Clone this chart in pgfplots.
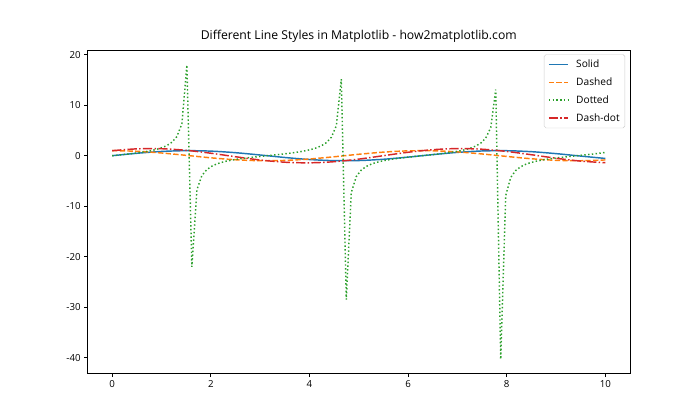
\documentclass[border=0pt]{standalone}
\usepackage{pgfplots}
\pgfplotsset{compat=1.18}
\usepackage{fontspec}
\setmainfont{Open Sans}
\definecolor{c0}{HTML}{1F77B4}
\definecolor{c1}{HTML}{FF7F0E}
\definecolor{c2}{HTML}{2CA02C}
\definecolor{c3}{HTML}{D62728}
\begin{document}
\begin{tikzpicture}
\begin{axis}[
    name=ax,
    scale only axis,
    width=7.75in, height=4.62in,
    xmin=-0.5, xmax=10.5,
    ymin=-43.2, ymax=20.86,
    xtick={0,2,...,10},
    ytick={-40,-30,...,20},
    tick align=outside,
    tick pos=left,
    major tick length=3.5pt,
    tick style={black, line width=0.8pt},
    axis line style={line width=0.8pt},
    /pgf/number format/assume math mode=true,
    ticklabel style={font=\fontsize{10}{12}\selectfont},
    title={Different Line Styles in Matplotlib - how2matplotlib.com},
    title style={font=\fontsize{12.6}{14}\selectfont, yshift=-1pt},
    legend cell align=left,
    legend style={font=\fontsize{10.5}{12}\selectfont, draw=black!20, rounded corners=2pt,
        at={(0.991,0.988)}, anchor=north east, row sep=6pt, column sep=6pt,
        inner sep=4pt, nodes={inner sep=1.5pt}},
    legend image code/.code={\draw[#1, line width=1.6pt] (0pt,0pt) -- (20pt,0pt);},
]
\addplot[color=c0, line width=1.5pt, smooth, solid] coordinates {
(0,0) (0.5,0.479) (1,0.841) (1.5,0.997) (2,0.909) (2.5,0.598) (3,0.141)
(3.5,-0.351) (4,-0.757) (4.5,-0.978) (5,-0.959) (5.5,-0.706) (6,-0.279)
(6.5,0.215) (7,0.657) (7.5,0.938) (8,0.989) (8.5,0.798) (9,0.412)
(9.5,-0.075) (10,-0.544)
};
\addlegendentry{Solid}
\addplot[color=c1, line width=1.5pt, smooth, dash pattern=on 5.5pt off 2.4pt] coordinates {
(0,1) (0.5,0.878) (1,0.540) (1.5,0.071) (2,-0.416) (2.5,-0.801) (3,-0.990)
(3.5,-0.936) (4,-0.654) (4.5,-0.211) (5,0.284) (5.5,0.709) (6,0.960)
(6.5,0.977) (7,0.754) (7.5,0.347) (8,-0.146) (8.5,-0.602) (9,-0.911)
(9.5,-0.997) (10,-0.839)
};
\addlegendentry{Dashed}
\addplot[color=c2, line width=1.5pt, dash pattern=on 1.5pt off 2.4pt] coordinates {
(0,0) (0.10101,0.1013) (0.20202,0.2048) (0.30303,0.3126) (0.40404,0.4276)
(0.50505,0.5529) (0.60606,0.6930) (0.70707,0.8544) (0.80808,1.0462)
(0.90909,1.2840) (1.01010,1.5925) (1.11111,2.0200) (1.21212,2.666)
(1.31313,3.795) (1.41414,6.329) (1.51515,17.95) (1.61616,-22.03)
(1.71717,-6.784) (1.81818,-3.959) (1.91919,-2.755) (2.02020,-2.074)
(2.12121,-1.628) (2.22222,-1.310) (2.32323,-1.067) (2.42424,-0.872)
(2.52525,-0.708) (2.62626,-0.566) (2.72727,-0.440) (2.82828,-0.324)
(2.92929,-0.216) (3.03030,-0.112) (3.13131,-0.0103) (3.23232,0.0910)
(3.33333,0.1941) (3.43434,0.3014) (3.53535,0.4154) (3.63636,0.5395)
(3.73737,0.6779) (3.83838,0.8368) (3.93939,1.0251) (4.04040,1.2571)
(4.14141,1.5568) (4.24242,1.9685) (4.34343,2.586) (4.44444,3.642)
(4.54545,5.935) (4.64646,15.14) (4.74747,-28.49) (4.84848,-7.303)
(4.94949,-4.139) (5.05051,-2.844) (5.15152,-2.128) (5.25253,-1.667)
(5.35354,-1.340) (5.45455,-1.090) (5.55556,-0.891) (5.65657,-0.724)
(5.75758,-0.580) (5.85859,-0.452) (5.95960,-0.335) (6.06061,-0.226)
(6.16162,-0.122) (6.26263,-0.0206) (6.36364,0.0806) (6.46465,0.1835)
(6.56566,0.2903) (6.66667,0.4035) (6.76768,0.5264) (6.86869,0.6630)
(6.96970,0.8195) (7.07071,1.0042) (7.17172,1.2309) (7.27273,1.5222)
(7.37374,1.919) (7.47475,2.509) (7.57576,3.501) (7.67677,5.583)
(7.77778,13.10) (7.87879,-40.30) (7.97980,-7.905) (8.08081,-4.333)
(8.18182,-2.940) (8.28283,-2.187) (8.38384,-1.707) (8.48485,-1.369)
(8.58586,-1.113) (8.68687,-0.909) (8.78788,-0.740) (8.88889,-0.594)
(8.98990,-0.465) (9.09091,-0.347) (9.19192,-0.237) (9.29293,-0.133)
(9.39394,-0.0309) (9.49495,0.0703) (9.59596,0.1729) (9.69697,0.2791)
(9.79798,0.3916) (9.89899,0.5133) (10,0.6484)
};
\addlegendentry{Dotted}
\addplot[color=c3, line width=1.5pt, smooth, dash pattern=on 9.6pt off 2.4pt on 1.5pt off 2.4pt] coordinates {
(0,1) (0.5,1.357) (1,1.381) (1.5,1.068) (2,0.493) (2.5,-0.203) (3,-0.849)
(3.5,-1.287) (4,-1.411) (4.5,-1.189) (5,-0.675) (5.5,0.003) (6,0.681)
(6.5,1.192) (7,1.411) (7.5,1.285) (8,0.843) (8.5,0.196) (9,-0.499)
(9.5,-1.072) (10,-1.383)
};
\addlegendentry{Dash-dot}
\end{axis}
\path[use as bounding box] ([shift={(-1.25in,-0.66in)}]ax.south west)
    rectangle ([shift={(1in,0.72in)}]ax.north east);
\end{tikzpicture}
\end{document}
